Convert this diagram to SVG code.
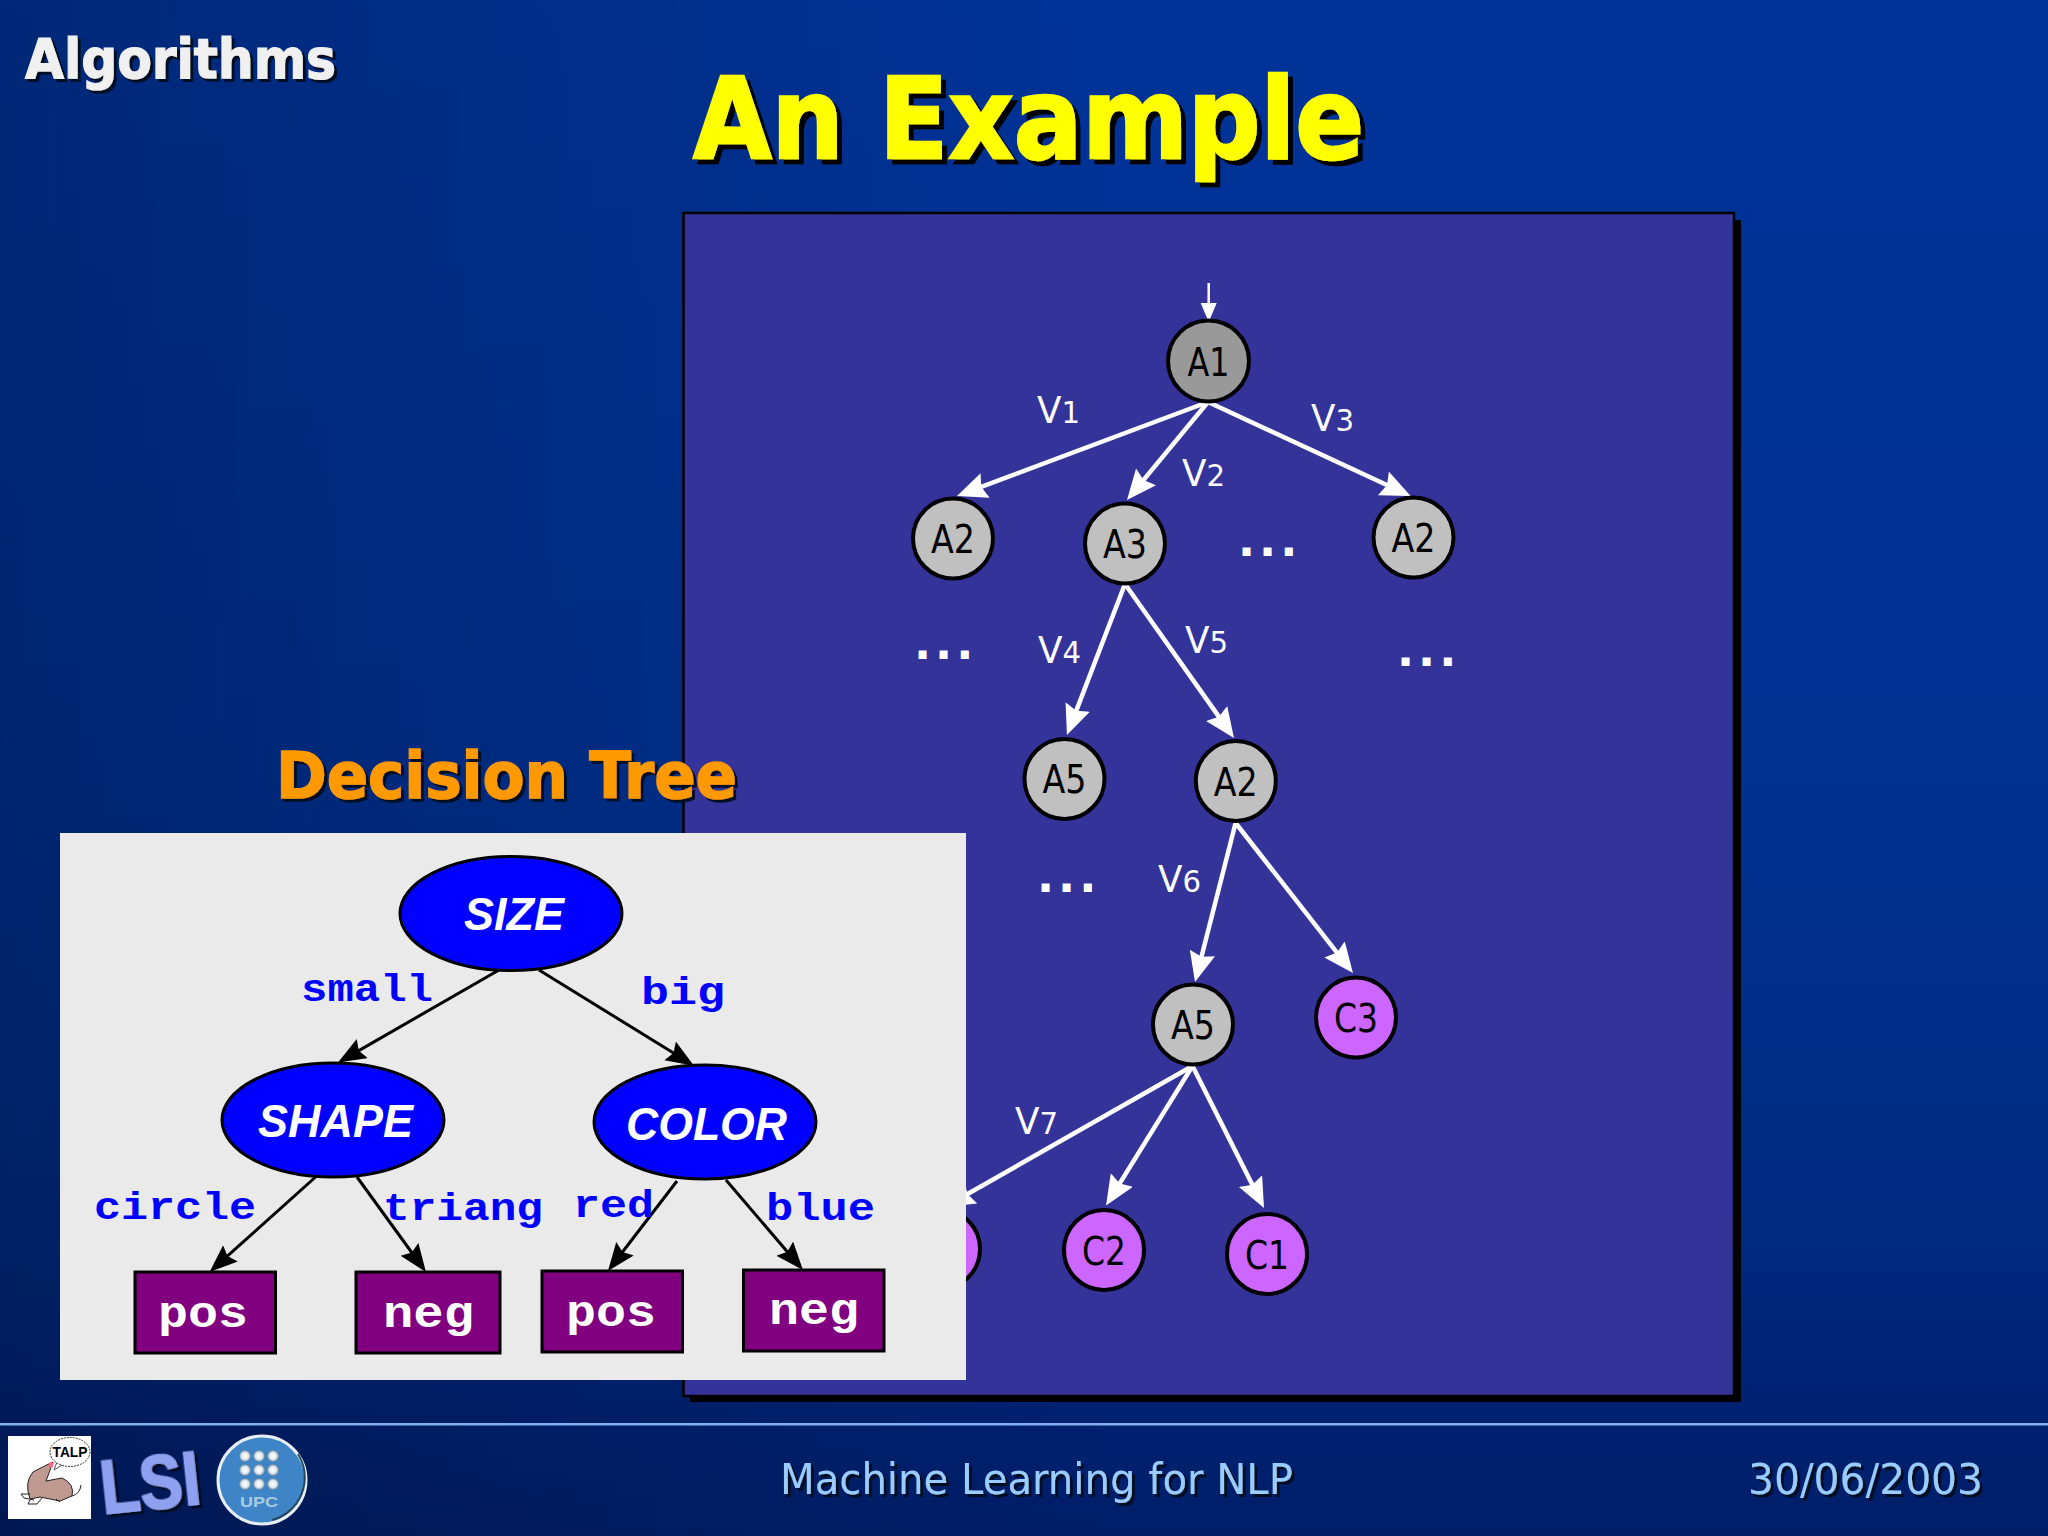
<svg xmlns="http://www.w3.org/2000/svg" width="2048" height="1536" viewBox="0 0 2048 1536">
<defs>
<linearGradient id="bg" x1="0" y1="0" x2="0" y2="1">
<stop offset="0" stop-color="#003399"/><stop offset="0.5" stop-color="#003090"/><stop offset="0.8" stop-color="#002a80"/><stop offset="0.93" stop-color="#002070"/><stop offset="1" stop-color="#001e68"/>
</linearGradient>
<linearGradient id="ov" x1="0" y1="0" x2="1" y2="0">
<stop offset="0" stop-color="#000" stop-opacity="0.22"/><stop offset="0.55" stop-color="#000" stop-opacity="0"/>
</linearGradient>
<radialGradient id="dot" cx="0.5" cy="0.5" r="0.5"><stop offset="0" stop-color="#ffffff"/><stop offset="0.6" stop-color="#dfe8ee"/><stop offset="1" stop-color="#5d7f9c"/></radialGradient>
<filter id="sh5" x="-10%" y="-20%" width="120%" height="140%"><feDropShadow dx="5" dy="5" stdDeviation="0.6" flood-color="#000"/></filter>
<filter id="sh3" x="-10%" y="-20%" width="120%" height="140%"><feDropShadow dx="3" dy="3" stdDeviation="0.6" flood-color="#000820"/></filter>
<marker id="wa" markerUnits="userSpaceOnUse" markerWidth="34" markerHeight="28" refX="24" refY="13" orient="auto"><path d="M0,0 L30,13 L0,26 L4,13 Z" fill="#fff"/></marker>
<marker id="wb" markerUnits="userSpaceOnUse" markerWidth="22" markerHeight="20" refX="14" refY="8" orient="auto"><path d="M0,0 L19,8 L0,16 Z" fill="#fff"/></marker>
<marker id="ka" markerUnits="userSpaceOnUse" markerWidth="32" markerHeight="24" refX="23" refY="11" orient="auto"><path d="M0,0 L28,11 L0,22 L4,11 Z" fill="#000"/></marker>
</defs>
<style>
.t{font-family:"DejaVu Sans",Verdana,sans-serif}
.title{font-weight:bold;fill:#ffff00;stroke:#ffff00;stroke-width:2.500px;font-size:113px}
.wh{fill:#f0f0f0;stroke:#f0f0f0;stroke-width:1.200px}
.foot{fill:#99ccff;font-size:42px}
.n circle{stroke:#000;stroke-width:4}
.n text{font-family:"DejaVu Sans",sans-serif;font-size:39px;fill:#000;text-anchor:middle}
.g1{fill:#999999}.g2{fill:#c0c0c0}.c{fill:#cc66ff}
.we{stroke:#fff;stroke-width:4.500;fill:none;marker-end:url(#wa)}
.v{font-family:"DejaVu Sans",sans-serif;font-size:38px;fill:#fff}
.v tspan{font-size:31px}
.dots{font-family:"DejaVu Sans",sans-serif;font-weight:bold;font-size:45px;fill:#fff;letter-spacing:4px}
.ke{stroke:#000;stroke-width:3;fill:none;marker-end:url(#ka)}
.e ellipse{fill:#0000ff;stroke:#000;stroke-width:3}
.e text{font-family:"Liberation Sans",Arial,sans-serif;font-weight:bold;font-style:italic;font-size:46px;fill:#fff}
.r rect{fill:#800080;stroke:#000;stroke-width:3}
.r text{font-family:"Liberation Mono","Courier New",monospace;font-weight:bold;font-size:44px;fill:#fff}
.l{font-family:"Liberation Mono","Courier New",monospace;font-weight:bold;font-size:38px;fill:#0000ff}
</style>
<rect width="2048" height="1536" fill="url(#bg)"/>
<rect width="2048" height="1536" fill="url(#ov)"/>
<rect x="0" y="1423" width="2048" height="2.500" fill="#80b0f0"/>
<text class="t wh" x="25" y="78" font-size="55" font-weight="bold" textLength="311" lengthAdjust="spacingAndGlyphs" filter="url(#sh3)">Algorithms</text>
<text class="t title" x="693" y="157.500" textLength="671" lengthAdjust="spacingAndGlyphs" filter="url(#sh5)">An Example</text>

<rect x="690" y="220" width="1051" height="1182" fill="#000"/>
<rect x="683.500" y="213" width="1050.500" height="1183" fill="#333399" stroke="#000" stroke-width="2.500"/>

<g id="connectors">
<line x1="1208.700" y1="283" x2="1208.700" y2="317" stroke="#fff" stroke-width="2.500" marker-end="url(#wb)"/>
<line class="we" x1="1208" y1="402" x2="962.600" y2="493.900"/>
<line class="we" x1="1208" y1="402" x2="1130.800" y2="495.400"/>
<line class="we" x1="1208" y1="402" x2="1405.200" y2="493.500"/>
<line class="we" x1="1125" y1="584" x2="1069.100" y2="729.400"/>
<line class="we" x1="1125" y1="584" x2="1230.500" y2="733.100"/>
<line class="we" x1="1235.600" y1="823" x2="1196.500" y2="976.200"/>
<line class="we" x1="1235.600" y1="823" x2="1349.300" y2="968.300"/>
<line class="we" x1="1192.500" y1="1066" x2="1109.200" y2="1200.400"/>
<line class="we" x1="1192.500" y1="1066" x2="1261.300" y2="1202.600"/>
<line class="we" x1="1192.500" y1="1066" x2="950" y2="1204"/>
</g>

<g id="node-a1" class="n"><circle class="g1" cx="1208.500" cy="361" r="40.500"/><text x="1208.500" y="376" textLength="42" lengthAdjust="spacingAndGlyphs">A1</text></g>
<g id="node-a2-left" class="n"><circle class="g2" cx="953" cy="538.500" r="40"/><text x="953" y="553" textLength="44" lengthAdjust="spacingAndGlyphs">A2</text></g>
<g id="node-a3" class="n"><circle class="g2" cx="1125" cy="543.500" r="40"/><text x="1125" y="558" textLength="44" lengthAdjust="spacingAndGlyphs">A3</text></g>
<g id="node-a2-right" class="n"><circle class="g2" cx="1413.500" cy="537.500" r="40"/><text x="1413.500" y="552" textLength="44" lengthAdjust="spacingAndGlyphs">A2</text></g>
<g id="node-a5-left" class="n"><circle class="g2" cx="1064.500" cy="779" r="40"/><text x="1064.500" y="793" textLength="44" lengthAdjust="spacingAndGlyphs">A5</text></g>
<g id="node-a2-mid" class="n"><circle class="g2" cx="1235.800" cy="781" r="40"/><text x="1235.800" y="796" textLength="44" lengthAdjust="spacingAndGlyphs">A2</text></g>
<g id="node-a5-low" class="n"><circle class="g2" cx="1193" cy="1024.500" r="40"/><text x="1193" y="1039" textLength="44" lengthAdjust="spacingAndGlyphs">A5</text></g>
<g id="node-c3" class="n"><circle class="c" cx="1356" cy="1017.500" r="40"/><text x="1356" y="1032" textLength="44" lengthAdjust="spacingAndGlyphs">C3</text></g>
<g id="node-c-hidden" class="n"><circle class="c" cx="940" cy="1249" r="40"/></g>
<g id="node-c2" class="n"><circle class="c" cx="1104" cy="1250" r="40"/><text x="1104" y="1265" textLength="44" lengthAdjust="spacingAndGlyphs">C2</text></g>
<g id="node-c1" class="n"><circle class="c" cx="1267" cy="1254" r="40"/><text x="1267" y="1269" textLength="44" lengthAdjust="spacingAndGlyphs">C1</text></g>

<text class="v" x="1037" y="423" textLength="43" lengthAdjust="spacingAndGlyphs">V<tspan>1</tspan></text>
<text class="v" x="1182" y="486" textLength="43" lengthAdjust="spacingAndGlyphs">V<tspan>2</tspan></text>
<text class="v" x="1311" y="431" textLength="43" lengthAdjust="spacingAndGlyphs">V<tspan>3</tspan></text>
<text class="v" x="1038" y="663" textLength="43" lengthAdjust="spacingAndGlyphs">V<tspan>4</tspan></text>
<text class="v" x="1185" y="653" textLength="43" lengthAdjust="spacingAndGlyphs">V<tspan>5</tspan></text>
<text class="v" x="1158" y="892" textLength="43" lengthAdjust="spacingAndGlyphs">V<tspan>6</tspan></text>
<text class="v" x="1015" y="1134" textLength="43" lengthAdjust="spacingAndGlyphs">V<tspan>7</tspan></text>
<text class="dots" x="1238" y="556">...</text>
<text class="dots" x="914" y="659">...</text>
<text class="dots" x="1397" y="666">...</text>
<text class="dots" x="1037" y="892">...</text>

<text class="t" x="276" y="798" font-size="64" font-weight="bold" fill="#ff9900" stroke="#ff9900" stroke-width="1.500" textLength="461" lengthAdjust="spacingAndGlyphs" filter="url(#sh3)">Decision Tree</text>

<rect id="inset" x="60" y="833" width="906" height="547" fill="#eaeaea"/>
<g id="inset-connectors">
<line class="ke" x1="499" y1="970" x2="342.300" y2="1060.100"/>
<line class="ke" x1="539" y1="970" x2="689.700" y2="1063"/>
<line class="ke" x1="315.600" y1="1177" x2="213.300" y2="1268.700"/>
<line class="ke" x1="357" y1="1177" x2="423" y2="1268"/>
<line class="ke" x1="677" y1="1181" x2="611" y2="1267"/>
<line class="ke" x1="726" y1="1180" x2="799.700" y2="1266.200"/>
</g>
<g id="node-size" class="e"><ellipse cx="511" cy="913.500" rx="111" ry="57"/><text x="464" y="930" textLength="100" lengthAdjust="spacingAndGlyphs">SIZE</text></g>
<g id="node-shape" class="e"><ellipse cx="333" cy="1120" rx="111" ry="57"/><text x="258" y="1137" textLength="155" lengthAdjust="spacingAndGlyphs">SHAPE</text></g>
<g id="node-color" class="e"><ellipse cx="705" cy="1122" rx="111" ry="57"/><text x="626" y="1140" textLength="161" lengthAdjust="spacingAndGlyphs">COLOR</text></g>
<g id="node-pos1" class="r"><rect x="135" y="1272" width="140.500" height="81"/><text x="158" y="1327" textLength="90" lengthAdjust="spacingAndGlyphs">pos</text></g>
<g id="node-neg1" class="r"><rect x="356" y="1272" width="144" height="81"/><text x="383" y="1327" textLength="91" lengthAdjust="spacingAndGlyphs">neg</text></g>
<g id="node-pos2" class="r"><rect x="542" y="1271" width="140.500" height="81"/><text x="566" y="1326" textLength="90" lengthAdjust="spacingAndGlyphs">pos</text></g>
<g id="node-neg2" class="r"><rect x="743.500" y="1270" width="140.500" height="81"/><text x="769" y="1324" textLength="90" lengthAdjust="spacingAndGlyphs">neg</text></g>
<text class="l" x="301" y="1001" textLength="132" lengthAdjust="spacingAndGlyphs">small</text>
<text class="l" x="641" y="1004" textLength="84" lengthAdjust="spacingAndGlyphs">big</text>
<text class="l" x="94" y="1219" textLength="162" lengthAdjust="spacingAndGlyphs">circle</text>
<text class="l" x="383" y="1220" textLength="160" lengthAdjust="spacingAndGlyphs">triang</text>
<text class="l" x="573" y="1217" textLength="81" lengthAdjust="spacingAndGlyphs">red</text>
<text class="l" x="766" y="1220" textLength="109" lengthAdjust="spacingAndGlyphs">blue</text>

<text class="t foot" x="780" y="1494" textLength="513" lengthAdjust="spacingAndGlyphs" filter="url(#sh3)">Machine Learning for NLP</text>
<text class="t foot" x="1748" y="1494" textLength="235" lengthAdjust="spacingAndGlyphs" filter="url(#sh3)">30/06/2003</text>

<g id="logo-talp">
<rect x="8" y="1436" width="83" height="83" fill="#fff"/>
<path d="M62,1465 L54,1470 L57,1462" fill="#fff" stroke="#555" stroke-width="1"/>
<ellipse cx="70" cy="1452" rx="20" ry="14.500" fill="#fff" stroke="#333" stroke-width="1" stroke-dasharray="2 1"/>
<text x="70" y="1457" font-family="Liberation Sans,sans-serif" font-weight="bold" font-size="14" text-anchor="middle" fill="#000" textLength="35" lengthAdjust="spacingAndGlyphs">TALP</text>
<path d="M53,1462 L46,1481 L62,1478 Q75,1484 72,1496 L60,1501 L40,1497 L30,1499 Q24,1482 33,1472 Q44,1466 53,1462 Z" fill="#c09a90" stroke="#222" stroke-width="1"/>
<path d="M50,1462 L54,1463 L52,1468 L48,1466 Z" fill="#ff6688"/>
<path d="M30,1494 L21,1494 L24,1498 L34,1500 M30,1500 L28,1504 L37,1504 L42,1498 M56,1499 L60,1502 M72,1496 Q80,1494 81,1485" stroke="#222" stroke-width="1" fill="none"/>
</g>
<g id="logo-lsi">
<text x="103" y="1514" font-family="Liberation Sans,sans-serif" font-weight="bold" font-size="76" fill="#8fa0f0" stroke="#8fa0f0" stroke-width="2" textLength="100" lengthAdjust="spacingAndGlyphs" transform="rotate(-6 103 1514)" filter="url(#sh3)">LSI</text>
</g>
<g id="logo-upc">
<circle cx="262" cy="1480" r="44" fill="#3d85c6" stroke="#e6eef2" stroke-width="3"/>
<path d="M298,1454 A44,44 0 0 1 272,1520" stroke="#26485f" stroke-width="2" fill="none"/>
<g fill="url(#dot)"><circle cx="245" cy="1456" r="6"/><circle cx="259" cy="1456" r="6"/><circle cx="273" cy="1456" r="6"/><circle cx="245" cy="1470" r="6"/><circle cx="259" cy="1470" r="6"/><circle cx="273" cy="1470" r="6"/><circle cx="245" cy="1484" r="6"/><circle cx="259" cy="1484" r="6"/><circle cx="273" cy="1484" r="6"/></g>
<text x="259" y="1507" font-family="Liberation Sans,sans-serif" font-weight="bold" font-size="15" text-anchor="middle" fill="#a9cbe0" textLength="38" lengthAdjust="spacingAndGlyphs">UPC</text>
</g>
</svg>
